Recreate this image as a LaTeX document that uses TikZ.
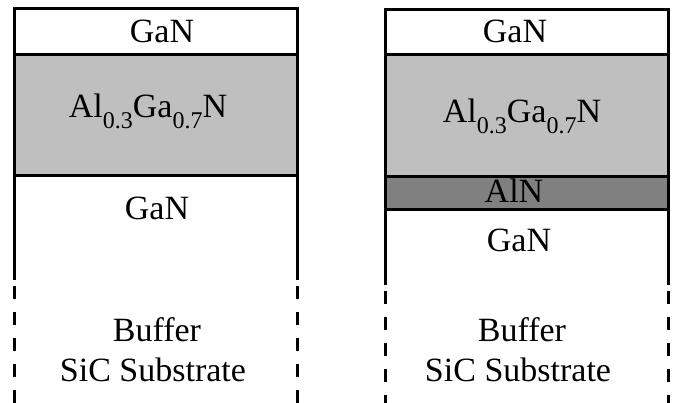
\documentclass[tikz,border=0pt]{standalone}
\usepackage{fontspec}
\setmainfont{Liberation Serif}
\newcommand{\layersub}[1]{\raisebox{-11pt}{\fontsize{24}{24}\selectfont #1}}
\begin{document}
\begin{tikzpicture}[
  x=1pt, y=-1pt,
  wall/.style={draw=black, line width=3pt},
  cut/.style={draw=black, line width=3pt, dash pattern=on 13pt off 13pt},
  layertext/.style={anchor=base, inner sep=0pt, font=\fontsize{34}{40}\selectfont},
]
  \useasboundingbox (0,0) rectangle (673,403);

  % left stack
  \fill[black!25] (14,55) rectangle (297,176);
  \draw[wall] (14,280) -- (14,9) -- (297,9) -- (297,280);
  \draw[wall] (14,55) -- (297,55);
  \draw[wall] (14,176) -- (297,176);
  \draw[cut] (14,286) -- (14,403);
  \draw[cut] (297,286) -- (297,403);

  \node[layertext] (capL) at (162,43) {GaN};
  \node[layertext] (barrierL) at (148,118) {Al\layersub{0.3}Ga\layersub{0.7}N};
  \node[layertext] (channelL) at (157,220) {GaN};
  \node[layertext] (bufferL) at (157,342) {Buffer};
  \node[layertext] (substrateL) at (153,382) {SiC Substrate};

  % right stack
  \fill[black!25] (385,55) rectangle (668,177);
  \fill[black!50] (385,177) rectangle (668,210);
  \draw[wall] (385,285) -- (385,10) -- (668,10) -- (668,285);
  \draw[wall] (385,55) -- (668,55);
  \draw[wall] (385,177) -- (668,177);
  \draw[wall] (385,210) -- (668,210);
  \draw[cut] (385,291) -- (385,403);
  \draw[cut] (668,291) -- (668,403);

  \node[layertext] (capR) at (515,43) {GaN};
  \node[layertext] (barrierR) at (522,123) {Al\layersub{0.3}Ga\layersub{0.7}N};
  \node[layertext] (spacerR) at (514,203) {AlN};
  \node[layertext] (channelR) at (519,252) {GaN};
  \node[layertext] (bufferR) at (522,342) {Buffer};
  \node[layertext] (substrateR) at (518,382) {SiC Substrate};
\end{tikzpicture}
\end{document}
